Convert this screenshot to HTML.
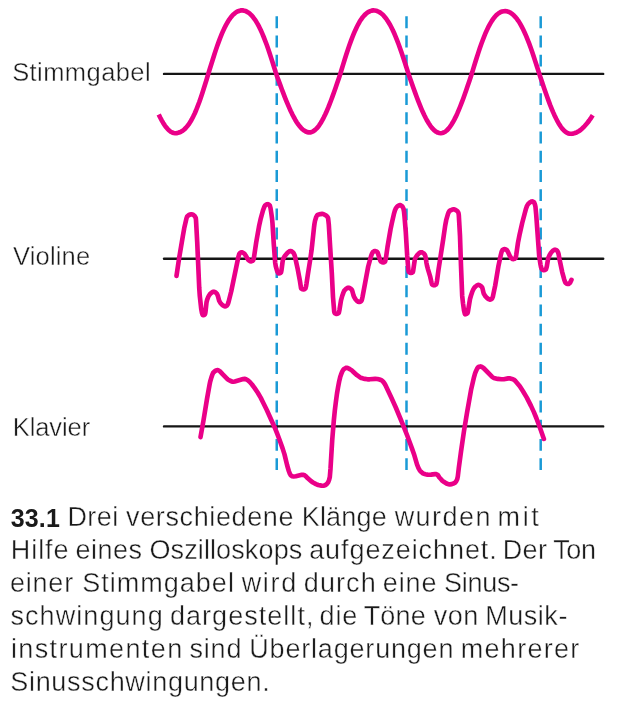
<!DOCTYPE html>
<html lang="de">
<head>
<meta charset="utf-8">
<title>33.1 Klänge</title>
<style>
html,body{margin:0;padding:0;background:#fff;}
body{width:619px;height:709px;position:relative;overflow:hidden;font-family:"Liberation Sans",sans-serif;color:#1a1a1a;}
svg{position:absolute;left:0;top:0;}
.lbl{position:absolute;font-size:25.5px;line-height:1;white-space:nowrap;-webkit-text-stroke:0.4px #fff;}
.cap span{position:absolute;line-height:1;white-space:nowrap;display:block;-webkit-text-stroke:0.4px #fff;}
.cap span.b{-webkit-text-stroke:0;}
</style>
</head>
<body>
<svg width="619" height="709" viewBox="0 0 619 709">
<g stroke="#1a9ad6" stroke-width="2.5" fill="none" stroke-dasharray="11.9 7.31"><line x1="276.75" y1="16.3" x2="276.75" y2="470"/><line x1="406.50" y1="16.3" x2="406.50" y2="470"/><line x1="540.70" y1="16.3" x2="540.70" y2="470"/></g>
<g stroke="#151515" stroke-width="2.4" fill="none" stroke-linecap="round">
<line x1="164" y1="73.9" x2="603.2" y2="73.9"/>
<line x1="164" y1="258.7" x2="603.2" y2="258.7"/>
<line x1="164" y1="426.4" x2="603.2" y2="426.4"/>
</g>
<g stroke="#ea0088" stroke-width="4.65" fill="none" stroke-linejoin="round" stroke-linecap="butt">
<path d="M158.7 114.4 L160.2 117.5 L161.7 120.3 L163.2 122.9 L164.7 125.3 L166.2 127.3 L167.7 129.1 L169.2 130.5 L170.7 131.7 L172.2 132.5 L173.7 133.0 L175.2 133.2 L176.7 133.1 L178.2 132.8 L179.7 132.3 L181.2 131.6 L182.7 130.7 L184.2 129.5 L185.7 128.0 L187.2 126.3 L188.7 124.4 L190.2 122.1 L191.7 119.5 L193.2 116.6 L194.7 113.5 L196.2 110.0 L197.7 106.2 L199.2 102.2 L200.7 97.9 L202.2 93.5 L203.7 88.8 L205.2 84.0 L206.7 79.2 L208.2 74.2 L209.7 69.3 L211.2 64.5 L212.7 59.7 L214.2 55.0 L215.7 50.4 L217.2 46.1 L218.7 41.9 L220.2 37.9 L221.7 34.2 L223.2 30.7 L224.7 27.6 L226.2 24.6 L227.7 22.0 L229.2 19.6 L230.7 17.5 L232.2 15.7 L233.7 14.2 L235.2 12.9 L236.7 11.9 L238.2 11.2 L239.7 10.7 L241.2 10.4 L242.7 10.4 L244.2 10.7 L245.7 11.1 L247.2 11.9 L248.7 12.8 L250.2 14.1 L251.7 15.5 L253.2 17.3 L254.7 19.3 L256.2 21.6 L257.7 24.1 L259.2 26.9 L260.7 30.0 L262.2 33.4 L263.7 37.0 L265.2 40.8 L266.7 44.8 L268.2 49.1 L269.7 53.5 L271.2 58.1 L272.7 62.7 L274.2 67.5 L275.7 72.3 L277.2 76.7 L278.7 80.8 L280.2 84.9 L281.7 89.0 L283.2 92.9 L284.7 96.8 L286.2 100.6 L287.7 104.2 L289.2 107.7 L290.7 111.0 L292.2 114.1 L293.7 117.0 L295.2 119.7 L296.7 122.2 L298.2 124.4 L299.7 126.3 L301.2 128.1 L302.7 129.5 L304.2 130.6 L305.7 131.5 L307.2 132.1 L308.7 132.4 L310.2 132.4 L311.7 132.0 L313.2 131.3 L314.7 130.3 L316.2 128.9 L317.7 127.3 L319.2 125.3 L320.7 123.0 L322.2 120.4 L323.7 117.6 L325.2 114.5 L326.7 111.2 L328.2 107.7 L329.7 103.9 L331.2 100.0 L332.7 95.9 L334.2 91.8 L335.7 87.5 L337.2 83.1 L338.7 78.7 L340.2 74.2 L341.7 69.3 L343.2 64.4 L344.7 59.5 L346.2 54.8 L347.7 50.2 L349.2 45.8 L350.7 41.6 L352.2 37.6 L353.7 33.9 L355.2 30.4 L356.7 27.2 L358.2 24.3 L359.7 21.6 L361.2 19.3 L362.7 17.2 L364.2 15.5 L365.7 14.0 L367.2 12.7 L368.7 11.8 L370.2 11.1 L371.7 10.6 L373.2 10.4 L374.7 10.5 L376.2 10.7 L377.7 11.3 L379.2 12.0 L380.7 13.0 L382.2 14.2 L383.7 15.7 L385.2 17.5 L386.7 19.4 L388.2 21.7 L389.7 24.2 L391.2 27.0 L392.7 30.0 L394.2 33.3 L395.7 36.8 L397.2 40.6 L398.7 44.5 L400.2 48.7 L401.7 53.0 L403.2 57.4 L404.7 62.0 L406.2 66.7 L407.7 71.4 L409.2 75.9 L410.7 80.3 L412.2 84.5 L413.7 88.8 L415.2 92.9 L416.7 97.0 L418.2 100.9 L419.7 104.7 L421.2 108.3 L422.7 111.8 L424.2 115.0 L425.7 118.0 L427.2 120.8 L428.7 123.3 L430.2 125.6 L431.7 127.6 L433.2 129.3 L434.7 130.7 L436.2 131.8 L437.7 132.6 L439.2 133.0 L440.7 133.2 L442.2 133.0 L443.7 132.5 L445.2 131.7 L446.7 130.5 L448.2 129.0 L449.7 127.1 L451.2 125.0 L452.7 122.6 L454.2 119.9 L455.7 116.9 L457.2 113.7 L458.7 110.2 L460.2 106.5 L461.7 102.7 L463.2 98.7 L464.7 94.5 L466.2 90.2 L467.7 85.8 L469.2 81.4 L470.7 76.9 L472.2 72.3 L473.7 67.3 L475.2 62.5 L476.7 57.7 L478.2 53.1 L479.7 48.6 L481.2 44.3 L482.7 40.2 L484.2 36.3 L485.7 32.7 L487.2 29.4 L488.7 26.3 L490.2 23.6 L491.7 21.1 L493.2 18.9 L494.7 17.0 L496.2 15.3 L497.7 14.0 L499.2 12.9 L500.7 12.0 L502.2 11.5 L503.7 11.2 L505.2 11.1 L506.7 11.3 L508.2 11.7 L509.7 12.3 L511.2 13.2 L512.7 14.4 L514.2 15.8 L515.7 17.4 L517.2 19.3 L518.7 21.4 L520.2 23.9 L521.7 26.6 L523.2 29.5 L524.7 32.7 L526.2 36.1 L527.7 39.8 L529.2 43.7 L530.7 47.8 L532.2 52.1 L533.7 56.5 L535.2 61.1 L536.7 65.7 L538.2 70.4 L539.7 75.1 L541.2 79.6 L542.7 84.1 L544.2 88.5 L545.7 92.8 L547.2 97.0 L548.7 101.1 L550.2 105.1 L551.7 108.8 L553.2 112.4 L554.7 115.7 L556.2 118.8 L557.7 121.7 L559.2 124.3 L560.7 126.6 L562.2 128.6 L563.7 130.2 L565.2 131.6 L566.7 132.7 L568.2 133.4 L569.7 133.7 L571.2 133.8 L572.7 133.6 L574.2 133.3 L575.7 132.8 L577.2 132.1 L578.7 131.2 L580.2 130.2 L581.7 128.9 L583.2 127.6 L584.7 126.0 L586.2 124.3 L587.7 122.5 L589.2 120.5 L590.7 118.4 L592.2 116.1 L592.8 115.2"/>
<path d="M176.5 275.9 L179.2 257.7 L182.8 236.4 L184.2 228.3 L186.5 218.2 L187.2 216.3 L189.0 215.0 L190.2 214.5 L191.2 214.3 L192.0 214.3 L193.0 214.7 L194.5 215.8 L195.2 216.9 L195.8 218.1 L196.0 219.9 L197.2 241.8 L199.2 287.5 L199.8 296.1 L201.2 308.8 L202.0 313.0 L202.5 314.6 L202.8 315.1 L203.2 315.2 L204.0 315.0 L205.0 314.3 L205.2 313.5 L205.5 311.8 L206.5 302.4 L207.2 299.6 L208.2 297.0 L209.0 295.5 L210.0 294.1 L211.8 292.5 L213.0 291.8 L213.8 291.7 L214.8 292.0 L215.8 292.7 L217.0 293.9 L217.8 295.7 L219.2 300.9 L220.5 303.0 L221.8 304.5 L223.0 305.5 L224.0 306.1 L224.8 306.4 L225.8 306.2 L227.0 305.5 L227.8 304.3 L228.5 302.2 L231.2 291.5 L238.2 257.7 L239.2 254.1 L239.8 253.2 L240.8 252.6 L241.8 252.3 L242.5 252.5 L243.8 253.2 L244.5 253.8 L245.5 255.3 L247.8 259.1 L248.5 260.1 L249.0 260.5 L250.2 261.2 L251.2 261.4 L252.5 260.9 L253.0 260.5 L253.2 260.1 L253.8 258.5 L254.2 255.9 L256.2 242.3 L259.2 225.4 L260.8 218.3 L263.0 210.4 L263.8 208.2 L264.5 206.5 L265.0 205.6 L265.8 204.9 L266.8 204.4 L267.8 204.2 L269.0 204.7 L269.8 205.4 L270.5 208.0 L271.2 212.5 L272.0 218.1 L272.5 223.5 L273.8 244.4 L275.2 262.8 L275.8 266.4 L276.8 269.9 L277.5 271.9 L278.2 273.1 L278.8 273.5 L279.8 273.3 L280.5 272.9 L281.0 272.5 L281.5 270.2 L282.5 262.4 L283.0 259.5 L283.8 257.7 L284.8 256.0 L287.5 252.8 L288.2 252.1 L289.0 251.6 L289.8 251.2 L290.5 251.0 L291.2 251.2 L292.0 251.6 L293.0 252.3 L293.8 253.4 L294.5 254.9 L295.0 256.7 L297.8 269.6 L299.8 280.2 L301.0 287.9 L301.2 288.5 L302.5 289.3 L303.5 289.5 L304.2 289.3 L305.2 288.6 L305.5 288.3 L306.0 286.5 L306.5 283.6 L307.8 274.8 L310.0 261.0 L311.5 250.7 L312.2 244.5 L314.0 227.4 L314.5 223.6 L315.0 220.9 L316.2 217.0 L317.0 215.5 L317.5 214.9 L318.8 214.5 L320.5 214.1 L322.2 213.9 L323.2 214.0 L325.8 215.3 L326.8 216.1 L327.5 217.0 L328.0 217.9 L328.2 219.0 L328.8 224.4 L330.2 247.7 L331.8 273.0 L333.0 297.1 L333.8 306.8 L334.2 311.6 L334.5 312.8 L335.0 313.3 L335.8 313.7 L336.5 313.9 L337.0 313.9 L337.8 313.6 L338.5 313.1 L338.8 312.8 L339.0 312.1 L339.5 309.7 L341.0 300.4 L342.2 296.0 L343.5 292.4 L344.2 290.8 L344.8 290.1 L346.0 288.9 L347.2 288.0 L348.2 287.7 L349.2 287.8 L350.5 288.5 L351.8 289.7 L352.2 290.7 L353.5 295.4 L354.0 296.8 L355.5 299.3 L356.8 300.8 L358.2 301.7 L359.2 302.0 L359.8 301.9 L360.5 301.6 L361.2 301.1 L361.5 300.7 L362.0 299.2 L362.5 297.0 L368.2 266.5 L371.0 256.3 L372.0 253.6 L372.8 252.2 L374.0 251.3 L375.0 251.0 L376.0 251.2 L377.2 252.0 L377.8 252.9 L378.2 254.2 L380.2 260.4 L381.0 261.6 L382.2 262.3 L383.2 262.5 L384.5 262.0 L385.0 261.6 L385.2 261.2 L386.0 257.6 L387.5 247.0 L390.5 229.5 L391.8 223.2 L393.8 214.4 L395.0 210.2 L396.0 208.1 L396.8 207.0 L397.5 206.2 L399.2 205.2 L400.0 205.1 L400.8 205.3 L402.0 206.2 L402.5 206.7 L403.5 208.8 L404.0 211.5 L404.5 216.4 L405.8 232.3 L407.2 255.9 L408.0 265.6 L408.5 270.8 L408.8 272.0 L409.8 272.8 L410.8 273.0 L411.8 272.8 L412.8 272.1 L413.0 271.7 L413.2 270.5 L414.8 259.7 L415.5 257.8 L416.8 255.8 L418.0 254.3 L419.0 253.3 L420.2 252.5 L421.0 252.2 L421.5 252.2 L422.2 252.5 L423.5 253.2 L424.0 253.7 L424.8 254.7 L425.2 255.7 L425.8 258.0 L426.5 263.1 L427.0 265.6 L428.0 269.3 L430.2 276.7 L431.5 282.6 L432.0 284.3 L433.0 285.0 L434.0 285.3 L435.0 285.1 L436.0 284.5 L436.2 284.2 L436.5 283.5 L437.0 280.9 L438.5 269.7 L443.2 239.4 L445.2 225.5 L446.2 220.2 L448.0 213.9 L448.8 212.0 L449.2 211.2 L450.2 210.5 L451.8 209.8 L453.0 209.4 L454.2 209.3 L455.5 209.9 L456.8 210.7 L457.5 211.3 L458.0 212.0 L458.5 213.1 L458.8 215.0 L459.2 221.8 L460.0 236.0 L461.0 265.8 L462.2 295.9 L463.0 303.3 L464.0 310.5 L464.8 313.6 L465.0 314.1 L465.2 314.3 L465.8 314.2 L466.5 313.9 L467.2 313.4 L467.5 313.1 L467.8 312.4 L468.2 310.0 L470.0 299.0 L471.0 295.5 L472.2 291.9 L473.2 289.6 L474.2 287.8 L475.5 286.5 L477.0 285.4 L478.2 284.9 L479.2 285.0 L480.5 285.7 L482.0 287.1 L482.5 288.5 L483.5 292.7 L484.0 294.1 L485.5 296.4 L487.0 298.0 L488.8 299.2 L489.8 299.6 L490.2 299.6 L491.0 299.3 L492.0 298.6 L492.2 298.2 L492.8 296.9 L493.2 295.1 L495.2 285.5 L498.5 265.7 L500.8 255.0 L501.5 252.2 L502.0 250.9 L502.5 250.1 L503.8 249.3 L504.8 249.1 L505.8 249.5 L506.8 250.1 L507.5 251.1 L510.2 256.7 L511.2 258.1 L512.5 258.9 L513.5 259.1 L514.5 258.8 L515.5 258.1 L515.8 257.5 L516.2 255.2 L518.0 242.6 L519.5 235.0 L522.2 223.0 L526.0 208.7 L527.0 205.9 L528.2 203.9 L529.8 202.5 L531.2 201.6 L532.0 201.4 L532.5 201.5 L533.2 201.8 L534.0 202.3 L534.2 202.6 L535.0 204.8 L535.5 207.1 L536.2 214.6 L539.2 256.2 L540.5 264.6 L541.0 267.0 L541.5 268.6 L541.8 269.1 L542.2 269.6 L543.0 270.0 L543.8 270.2 L544.8 270.0 L546.0 269.2 L546.2 268.6 L546.8 266.5 L548.2 258.2 L548.8 256.8 L549.5 255.2 L551.0 252.8 L552.8 250.8 L554.5 249.8 L555.0 249.7 L555.8 249.9 L556.5 250.2 L557.2 250.8 L558.0 252.2 L558.5 253.7 L559.5 259.2 L562.2 272.1 L564.2 279.4 L565.2 282.3 L565.8 283.1 L566.8 283.7 L567.8 284.0 L568.5 283.9 L569.8 283.1 L570.2 282.6 L571.5 279.8" stroke-linecap="round"/>
<path d="M200.5 437.1 L203.5 420.4 L207.0 399.0 L209.5 385.0 L210.2 381.5 L211.5 377.1 L212.5 374.3 L213.2 372.8 L214.8 371.3 L216.0 370.5 L217.2 370.1 L218.2 370.3 L219.5 371.0 L220.2 371.6 L222.8 374.4 L227.2 378.9 L228.2 379.7 L230.5 380.9 L231.5 381.4 L232.5 381.6 L233.5 381.7 L234.8 381.5 L243.2 379.1 L244.8 378.9 L245.5 379.0 L247.8 380.3 L249.8 382.0 L252.0 384.5 L254.5 387.9 L257.8 392.8 L260.8 397.9 L263.2 402.7 L266.8 410.0 L274.8 427.7 L277.0 433.2 L279.5 439.8 L282.5 448.1 L284.5 454.4 L287.2 465.5 L288.8 471.0 L289.8 473.6 L290.8 475.4 L292.2 476.3 L293.5 476.5 L295.8 476.2 L301.8 474.8 L303.5 474.8 L304.2 475.1 L305.5 475.9 L307.8 478.3 L311.2 481.3 L313.0 482.5 L316.0 484.1 L318.2 485.0 L321.5 485.6 L323.5 485.7 L325.0 485.3 L326.8 484.0 L328.0 482.6 L329.0 480.2 L329.8 477.1 L330.5 468.7 L332.2 440.4 L333.8 420.8 L334.8 410.8 L335.8 402.4 L337.0 393.5 L338.0 387.6 L339.2 381.3 L340.2 377.1 L341.0 374.7 L342.2 371.6 L343.2 369.8 L344.0 369.0 L345.8 368.0 L346.5 367.7 L347.2 367.7 L349.8 369.1 L351.8 370.4 L353.2 371.7 L357.0 375.2 L359.8 377.2 L361.5 378.1 L364.8 378.9 L367.5 379.3 L369.8 379.3 L375.2 378.9 L377.5 379.0 L379.5 379.5 L381.5 380.2 L382.2 380.8 L383.0 381.5 L384.5 383.5 L385.5 385.2 L391.5 398.0 L395.8 407.5 L403.0 424.8 L407.2 435.5 L412.2 449.1 L414.0 454.2 L417.0 464.4 L418.5 468.1 L419.8 470.4 L421.0 471.8 L422.5 473.1 L423.8 473.8 L425.5 474.2 L427.5 474.6 L429.2 474.7 L431.0 474.6 L435.0 474.1 L436.0 474.1 L436.5 474.2 L438.0 475.2 L439.2 477.2 L440.8 479.0 L442.2 480.6 L443.8 481.8 L446.5 483.5 L448.2 484.2 L449.8 484.4 L451.8 484.1 L454.0 483.3 L455.0 482.7 L456.2 481.2 L457.2 479.2 L457.8 476.4 L458.8 467.9 L461.0 451.6 L464.0 431.0 L467.0 412.8 L471.2 389.2 L473.8 377.9 L474.8 374.3 L475.5 372.3 L477.0 368.9 L478.0 367.4 L478.5 367.0 L479.2 366.7 L480.5 366.4 L481.5 366.7 L483.5 368.0 L492.2 376.9 L493.0 377.5 L493.8 377.9 L497.8 378.9 L501.5 379.3 L503.8 379.2 L508.2 378.4 L510.2 378.4 L512.0 378.9 L513.8 379.6 L515.0 380.6 L516.2 382.0 L519.8 386.3 L523.0 391.2 L526.8 397.6 L531.0 405.9 L534.0 412.4 L536.5 418.5 L540.5 429.2 L543.9 438.9" stroke-linecap="round"/>
</g>
</svg>
<div class="lbl" id="l1" style="left:12.2px;top:60.31px;letter-spacing:0.42px">Stimmgabel</div>
<div class="lbl" id="l2" style="left:12.9px;top:244.31px;letter-spacing:0.2px">Violine</div>
<div class="lbl" id="l3" style="left:12.8px;top:415.31px;letter-spacing:-0.1px">Klavier</div>
<div class="cap">
<div class="ln"><span class="b" style="left:10.73px;top:506.04px;font-size:25.0px;letter-spacing:0.171px;font-weight:700;">33.1</span> <span style="left:67.39px;top:504.34px;font-size:27.0px;letter-spacing:0.477px;">Drei</span> <span style="left:126.11px;top:504.34px;font-size:27.0px;letter-spacing:0.617px;">verschiedene</span> <span style="left:301.69px;top:504.34px;font-size:27.0px;letter-spacing:0.189px;">Klänge</span> <span style="left:394.64px;top:504.34px;font-size:27.0px;letter-spacing:1.452px;">wurden</span> <span style="left:497.61px;top:504.34px;font-size:27.0px;letter-spacing:2.600px;">mit</span></div>
<div class="ln"><span style="left:10.69px;top:537.34px;font-size:27.0px;letter-spacing:0.975px;">Hilfe</span> <span style="left:75.45px;top:537.34px;font-size:27.0px;letter-spacing:0.519px;">eines</span> <span style="left:149.42px;top:537.34px;font-size:27.0px;letter-spacing:0.119px;">Oszilloskops</span> <span style="left:309.15px;top:537.34px;font-size:27.0px;letter-spacing:0.922px;">aufgezeichnet.</span> <span style="left:502.69px;top:537.34px;font-size:27.0px;letter-spacing:0.379px;">Der</span> <span style="left:553.29px;top:537.34px;font-size:27.0px;letter-spacing:-0.433px;">Ton</span></div>
<div class="ln"><span style="left:10.05px;top:570.34px;font-size:27.0px;letter-spacing:0.764px;">einer</span> <span style="left:82.17px;top:570.34px;font-size:27.0px;letter-spacing:1.020px;">Stimmgabel</span> <span style="left:241.64px;top:570.34px;font-size:27.0px;letter-spacing:1.732px;">wird</span> <span style="left:303.87px;top:570.34px;font-size:27.0px;letter-spacing:1.062px;">durch</span> <span style="left:382.75px;top:570.34px;font-size:27.0px;letter-spacing:0.867px;">eine</span> <span style="left:443.97px;top:570.34px;font-size:27.0px;letter-spacing:-0.281px;">Sinus-</span></div>
<div class="ln"><span style="left:10.45px;top:603.34px;font-size:27.0px;letter-spacing:1.078px;">schwingung</span> <span style="left:169.97px;top:603.34px;font-size:27.0px;letter-spacing:1.035px;">dargestellt,</span> <span style="left:319.57px;top:603.34px;font-size:27.0px;letter-spacing:0.801px;">die</span> <span style="left:363.69px;top:603.34px;font-size:27.0px;letter-spacing:0.188px;">Töne</span> <span style="left:433.81px;top:603.34px;font-size:27.0px;letter-spacing:0.407px;">von</span> <span style="left:485.19px;top:603.34px;font-size:27.0px;letter-spacing:0.543px;">Musik-</span></div>
<div class="ln"><span style="left:10.99px;top:636.34px;font-size:27.0px;letter-spacing:1.371px;">instrumenten</span> <span style="left:189.55px;top:636.34px;font-size:27.0px;letter-spacing:0.787px;">sind</span> <span style="left:249.32px;top:636.34px;font-size:27.0px;letter-spacing:0.807px;">Überlagerungen</span> <span style="left:460.81px;top:636.34px;font-size:27.0px;letter-spacing:1.273px;">mehrerer</span></div>
<div class="ln"><span style="left:10.27px;top:669.34px;font-size:27.0px;letter-spacing:0.690px;">Sinusschwingungen.</span></div>
</div>
</body>
</html>
